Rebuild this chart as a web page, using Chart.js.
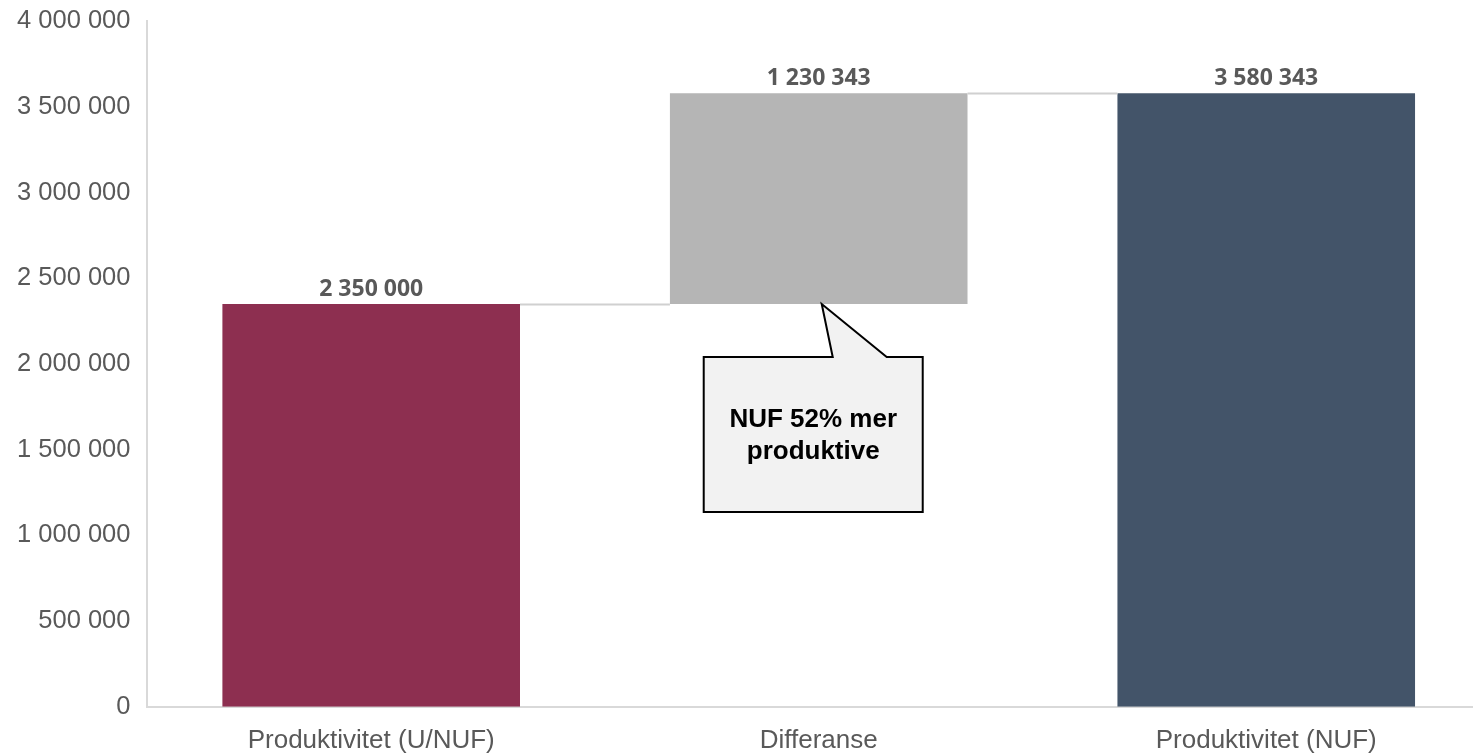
<!DOCTYPE html>
<html>
<head>
<meta charset="utf-8">
<script src="https://cdn.jsdelivr.net/npm/chart.js@4"></script>
<style>
  html, body { margin: 0; padding: 0; background: #fff; overflow: hidden; }
  #wrap { position: relative; width: 1490px; height: 785px; margin-top: -11px; }
</style>
</head>
<body>
<div id="wrap"><canvas id="chart"></canvas></div>
<script>
// waterfall data
const categories = ['Produktivitet (U/NUF)', 'Differanse', 'Produktivitet (NUF)'];
const barBases = [0, 2350000, 0];
const barValues = [2350000, 1230343, 3580343];
const barColors = ['#8D2F50', '#B5B5B5', '#435469'];
const yMin = 0;
const yMax = 4000000;
const yStep = 500000;
const calloutLines = ['NUF 52% mer', 'produktive'];

// format with space as thousands separator
const fmt = (v) => Math.round(v).toString().replace(/\B(?=(\d{3})+(?!\d))/g, ' ');

// floating bars [start, end]
const floating = barValues.map((v, i) => [barBases[i], barBases[i] + v]);

// connector lines + value labels + callout
const waterfallExtras = {
  id: 'waterfallExtras',
  afterDatasetsDraw(chart) {
    const ctx = chart.ctx;
    const y = chart.scales.y;
    const bars = chart.getDatasetMeta(0).data;

    // connectors between bars
    ctx.save();
    ctx.strokeStyle = '#D0D0D0';
    ctx.lineWidth = 2;
    for (let i = 0; i < bars.length - 1; i++) {
      const level = floating[i][1];
      const a = bars[i], b = bars[i + 1];
      const py = Math.round(y.getPixelForValue(level)) + 0.5;
      ctx.beginPath();
      ctx.moveTo(a.x + a.width / 2, py);
      ctx.lineTo(b.x - b.width / 2, py);
      ctx.stroke();
    }
    ctx.restore();

    // value labels above each bar
    ctx.save();
    ctx.fillStyle = '#595959';
    ctx.font = 'bold 23px "Open Sans", sans-serif';
    ctx.textAlign = 'center';
    ctx.textBaseline = 'alphabetic';
    bars.forEach((bar, i) => {
      const top = y.getPixelForValue(floating[i][1]);
      ctx.fillText(fmt(barValues[i]), bar.x, top - 8);
    });
    ctx.restore();

    // speech-bubble callout under the difference bar
    const diff = bars[1];
    const tipX = diff.x + 3;
    const tipY = y.getPixelForValue(barBases[1]);
    const left = diff.x - 115, right = diff.x + 104;
    const top = tipY + 53, bottom = tipY + 208;
    const baseL = diff.x + 14, baseR = diff.x + 68;

    ctx.save();
    ctx.beginPath();
    ctx.moveTo(left, top);
    ctx.lineTo(baseL, top);
    ctx.lineTo(tipX, tipY);
    ctx.lineTo(baseR, top);
    ctx.lineTo(right, top);
    ctx.lineTo(right, bottom);
    ctx.lineTo(left, bottom);
    ctx.closePath();
    ctx.fillStyle = '#F2F2F2';
    ctx.fill();
    ctx.strokeStyle = '#000';
    ctx.lineWidth = 2;
    ctx.lineJoin = 'miter';
    ctx.stroke();

    ctx.fillStyle = '#000';
    ctx.font = 'bold 26px "Liberation Sans", Arial, sans-serif';
    ctx.textAlign = 'center';
    ctx.textBaseline = 'middle';
    const cx = (left + right) / 2;
    const cy = (top + bottom) / 2;
    ctx.fillText(calloutLines[0], cx, cy - 15);
    ctx.fillText(calloutLines[1], cx, cy + 17);
    ctx.restore();
  }
};

new Chart(document.getElementById('chart'), {
  type: 'bar',
  data: {
    labels: categories,
    datasets: [{
      data: floating,
      backgroundColor: barColors,
      borderWidth: 0,
      categoryPercentage: 1,
      barPercentage: 0.665
    }]
  },
  options: {
    responsive: true,
    maintainAspectRatio: false,
    animation: false,
    layout: { padding: { top: 0, left: 0, right: 0, bottom: 0 } },
    plugins: {
      legend: { display: false },
      tooltip: { enabled: false }
    },
    scales: {
      x: {
        grid: { display: false, drawTicks: false },
        border: { color: '#D9D9D9', width: 2 },
        ticks: {
          color: '#595959',
          font: { family: '"Liberation Sans", Arial, sans-serif', size: 26 },
          padding: 18,
          maxRotation: 0
        }
      },
      y: {
        min: yMin,
        max: yMax,
        grid: { display: false, drawTicks: false },
        border: { color: '#D9D9D9', width: 2 },
        ticks: {
          stepSize: yStep,
          color: '#595959',
          font: { family: '"Liberation Sans", Arial, sans-serif', size: 25.5 },
          padding: 17,
          callback: (v) => fmt(v)
        }
      }
    }
  },
  plugins: [waterfallExtras]
});
</script>
</body>
</html>
